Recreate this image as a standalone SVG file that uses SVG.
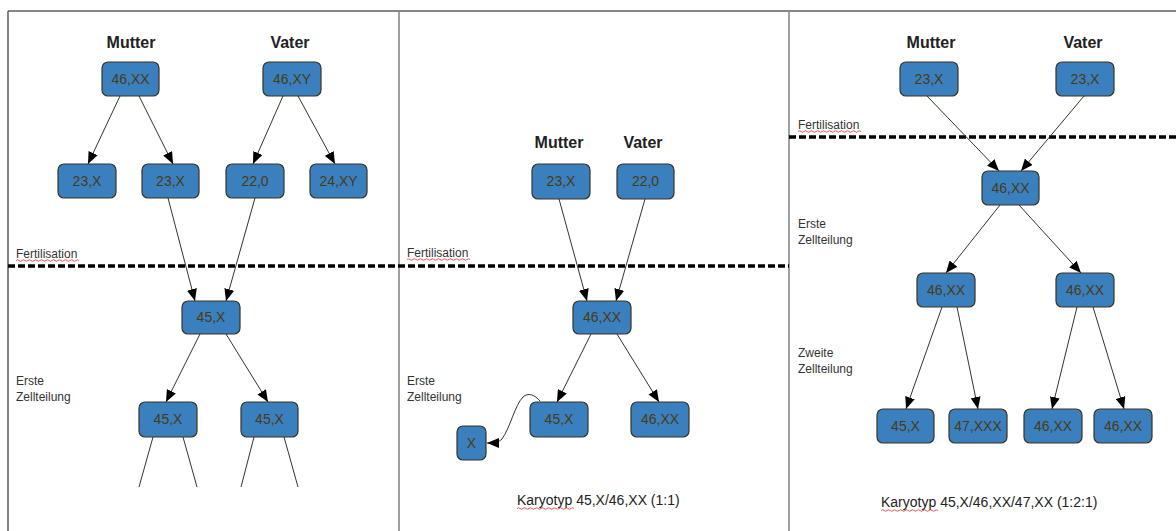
<svg xmlns="http://www.w3.org/2000/svg" width="1176" height="531" viewBox="0 0 1176 531">
<defs>
<marker id="arr" viewBox="0 0 12 10" refX="12" refY="5" markerWidth="12" markerHeight="10" markerUnits="userSpaceOnUse" orient="auto">
<path d="M0,0 L12,5 L0,10 Z" fill="#000"/>
</marker>
<style>
.n rect{fill:#3b80be;stroke:#3a3322;stroke-width:1.2}
.n text{font-family:"Liberation Sans",Arial,sans-serif;font-size:14px;fill:#4a3a12;text-anchor:middle}
.h{font-family:"Liberation Sans",Arial,sans-serif;font-size:16px;font-weight:bold;fill:#222;text-anchor:middle}
.l{font-family:"Liberation Sans",Arial,sans-serif;font-size:12px;fill:#333}
.k{font-family:"Liberation Sans",Arial,sans-serif;font-size:14px;fill:#222}
.e line,.e path{stroke:#333;stroke-width:1;fill:none}
.a{marker-end:url(#arr)}
.d{stroke:#000;stroke-width:3.5;stroke-dasharray:7,3}
.sq{stroke:#e03030;stroke-width:0.8;fill:none}
</style>
</defs>
<rect width="1176" height="531" fill="#fff"/>
<g id="frame">
<line x1="8" y1="11" x2="1176" y2="11" stroke="#111" stroke-width="1.2"/>
<line x1="8" y1="11" x2="8" y2="531" stroke="#444" stroke-width="1.3"/>
<line x1="399" y1="11" x2="399" y2="531" stroke="#888" stroke-width="1.6"/>
<line x1="789" y1="11" x2="789" y2="531" stroke="#888" stroke-width="1.6"/>
</g>
<g id="dividers">
<line class="d" x1="8" y1="266" x2="789" y2="266"/>
<line class="d" x1="789" y1="137" x2="1176" y2="137"/>
</g>
<g id="labels">
<text class="h" x="131" y="48">Mutter</text>
<text class="h" x="290" y="48">Vater</text>
<text class="h" x="559" y="148">Mutter</text>
<text class="h" x="643" y="148">Vater</text>
<text class="h" x="931" y="48">Mutter</text>
<text class="h" x="1083" y="48">Vater</text>
<text class="l" x="16" y="258">Fertilisation</text>
<path class="sq" d="M16,260.5 q1.5,-1.5 3,0 t3,0 t3,0 t3,0 t3,0 t3,0 t3,0 t3,0 t3,0 t3,0 t3,0 t3,0 t3,0 t3,0 t3,0 t3,0 t3,0 t3,0 t3,0 t3,0 t3,0"/>
<text class="l" x="407" y="257">Fertilisation</text>
<path class="sq" d="M407,259.5 q1.5,-1.5 3,0 t3,0 t3,0 t3,0 t3,0 t3,0 t3,0 t3,0 t3,0 t3,0 t3,0 t3,0 t3,0 t3,0 t3,0 t3,0 t3,0 t3,0 t3,0 t3,0 t3,0"/>
<text class="l" x="798" y="129">Fertilisation</text>
<path class="sq" d="M798,131.5 q1.5,-1.5 3,0 t3,0 t3,0 t3,0 t3,0 t3,0 t3,0 t3,0 t3,0 t3,0 t3,0 t3,0 t3,0 t3,0 t3,0 t3,0 t3,0 t3,0 t3,0 t3,0 t3,0"/>
<text class="l" x="16" y="385">Erste</text>
<text class="l" x="16" y="401">Zellteilung</text>
<text class="l" x="407" y="385">Erste</text>
<text class="l" x="407" y="401">Zellteilung</text>
<text class="l" x="798" y="228">Erste</text>
<text class="l" x="798" y="244">Zellteilung</text>
<text class="l" x="798" y="357">Zweite</text>
<text class="l" x="798" y="373">Zellteilung</text>
<text class="k" x="517" y="505">Karyotyp 45,X/46,XX (1:1)</text>
<path class="sq" d="M517,508.5 q1.5,-1.5 3,0 t3,0 t3,0 t3,0 t3,0 t3,0 t3,0 t3,0 t3,0 t3,0 t3,0 t3,0 t3,0 t3,0 t3,0 t3,0 t3,0 t3,0 t3,0"/>
<text class="k" x="881" y="507">Karyotyp 45,X/46,XX/47,XX (1:2:1)</text>
<path class="sq" d="M881,510.5 q1.5,-1.5 3,0 t3,0 t3,0 t3,0 t3,0 t3,0 t3,0 t3,0 t3,0 t3,0 t3,0 t3,0 t3,0 t3,0 t3,0 t3,0 t3,0 t3,0 t3,0"/>
</g>
<g id="connectors" class="e">
<line class="a" x1="120" y1="96" x2="88" y2="164"/>
<line class="a" x1="139" y1="96" x2="173" y2="164"/>
<line class="a" x1="283" y1="96" x2="253" y2="164"/>
<line class="a" x1="298" y1="96" x2="335" y2="164"/>
<line class="a" x1="168" y1="198" x2="195" y2="301"/>
<line class="a" x1="255" y1="198" x2="226" y2="301"/>
<line class="a" x1="200" y1="334" x2="166" y2="402"/>
<line class="a" x1="226" y1="334" x2="268" y2="402"/>
<line x1="153" y1="437" x2="139" y2="487"/>
<line x1="183" y1="437" x2="197" y2="487"/>
<line x1="254" y1="437" x2="241" y2="487"/>
<line x1="284" y1="437" x2="298" y2="487"/>
<line class="a" x1="559" y1="199" x2="587" y2="301"/>
<line class="a" x1="645" y1="199" x2="616" y2="301"/>
<line class="a" x1="591" y1="334" x2="557" y2="402"/>
<line class="a" x1="617" y1="334" x2="659" y2="402"/>
<path class="a" d="M540,401 C535,395 528,392 523,397 C515,405 510,428 502,439 C499,442 495,443 487,443"/>
<line class="a" x1="927" y1="96" x2="999" y2="171"/>
<line class="a" x1="1084" y1="96" x2="1021" y2="171"/>
<line class="a" x1="1000" y1="205" x2="946" y2="273"/>
<line class="a" x1="1019" y1="205" x2="1081" y2="273"/>
<line class="a" x1="942" y1="307" x2="906" y2="409"/>
<line class="a" x1="957" y1="307" x2="978" y2="409"/>
<line class="a" x1="1077" y1="307" x2="1052" y2="409"/>
<line class="a" x1="1093" y1="307" x2="1124" y2="409"/>
</g>
<g id="n1" class="n"><rect x="102" y="62" width="57" height="34" rx="6"/><text x="130.5" y="84">46,XX</text></g>
<g id="n2" class="n"><rect x="263" y="62" width="58" height="34" rx="6"/><text x="292" y="84">46,XY</text></g>
<g id="n3" class="n"><rect x="58" y="164" width="58" height="34" rx="6"/><text x="87" y="186">23,X</text></g>
<g id="n4" class="n"><rect x="142" y="164" width="57" height="34" rx="6"/><text x="170.5" y="186">23,X</text></g>
<g id="n5" class="n"><rect x="226" y="164" width="58" height="34" rx="6"/><text x="255" y="186">22,0</text></g>
<g id="n6" class="n"><rect x="310" y="164" width="57" height="34" rx="6"/><text x="338.5" y="186">24,XY</text></g>
<g id="n7" class="n"><rect x="182" y="301" width="58" height="33" rx="6"/><text x="211" y="322">45,X</text></g>
<g id="n8" class="n"><rect x="139" y="402" width="58" height="35" rx="6"/><text x="168" y="424">45,X</text></g>
<g id="n9" class="n"><rect x="241" y="402" width="57" height="35" rx="6"/><text x="269.5" y="424">45,X</text></g>
<g id="m1" class="n"><rect x="532" y="164" width="58" height="35" rx="6"/><text x="561" y="186">23,X</text></g>
<g id="m2" class="n"><rect x="617" y="164" width="57" height="35" rx="6"/><text x="645.5" y="186">22,0</text></g>
<g id="m3" class="n"><rect x="573" y="301" width="58" height="33" rx="6"/><text x="602" y="322">46,XX</text></g>
<g id="m4" class="n"><rect x="530" y="402" width="58" height="35" rx="6"/><text x="559" y="424">45,X</text></g>
<g id="m5" class="n"><rect x="631" y="402" width="58" height="35" rx="6"/><text x="660" y="424">46,XX</text></g>
<g id="m6" class="n"><rect x="457" y="426" width="29" height="34" rx="6"/><text x="471.5" y="448">X</text></g>
<g id="r1" class="n"><rect x="900" y="62" width="58" height="34" rx="6"/><text x="929" y="84">23,X</text></g>
<g id="r2" class="n"><rect x="1056" y="62" width="58" height="34" rx="6"/><text x="1085" y="84">23,X</text></g>
<g id="r3" class="n"><rect x="982" y="171" width="57" height="34" rx="6"/><text x="1010.5" y="193">46,XX</text></g>
<g id="r4" class="n"><rect x="917" y="273" width="58" height="34" rx="6"/><text x="946" y="295">46,XX</text></g>
<g id="r5" class="n"><rect x="1056" y="273" width="58" height="34" rx="6"/><text x="1085" y="295">46,XX</text></g>
<g id="r6" class="n"><rect x="877" y="409" width="57" height="34" rx="6"/><text x="905.5" y="431">45,X</text></g>
<g id="r7" class="n"><rect x="949" y="409" width="58" height="34" rx="6"/><text x="978" y="431">47,XXX</text></g>
<g id="r8" class="n"><rect x="1024" y="409" width="58" height="34" rx="6"/><text x="1053" y="431">46,XX</text></g>
<g id="r9" class="n"><rect x="1094" y="409" width="58" height="34" rx="6"/><text x="1123" y="431">46,XX</text></g>
</svg>
